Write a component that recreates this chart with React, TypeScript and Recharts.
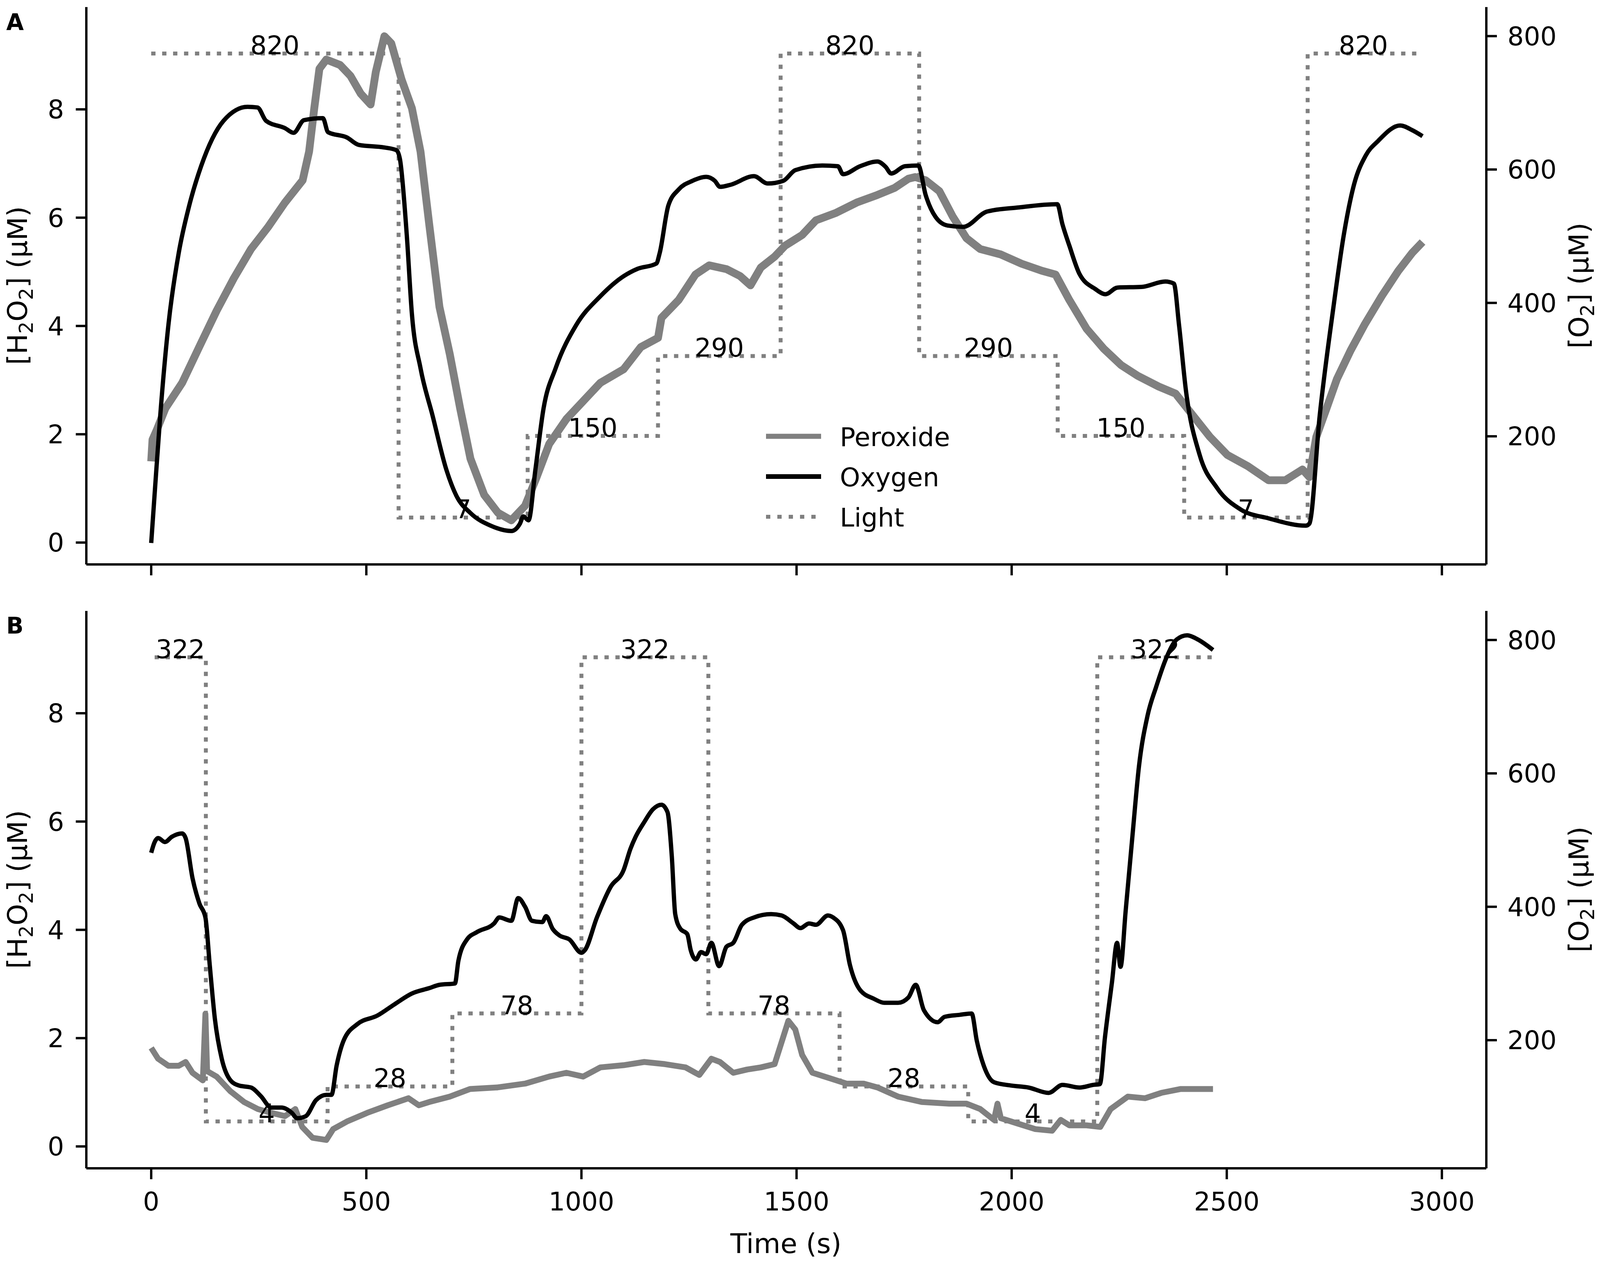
import React from 'react';
import { LineChart, Line, XAxis, YAxis, LabelList } from 'recharts';

// ---------- data ----------
const o2A: [number, number][] = [
  [0, 40], [9, 123], [21, 231], [40, 367], [64, 475], [88, 545], [116, 605], [168, 673], [224, 694], [247, 693],
  [267, 673], [311, 662], [331, 655], [355, 674], [399, 677], [411, 656], [455, 648], [482, 637], [542, 633], [570, 629],
  [578, 616], [594, 502], [606, 383], [626, 302], [654, 231], [686, 150], [710, 110], [742, 85], [789, 66], [837, 58],
  [857, 69], [865, 80], [877, 74], [893, 150], [912, 242], [940, 302], [988, 367], [1044, 410], [1098, 440], [1130, 451],
  [1174, 459], [1182, 475], [1202, 546], [1226, 570], [1258, 583], [1290, 589], [1310, 583], [1322, 574], [1346, 577],
  [1401, 590], [1433, 579], [1469, 583], [1497, 599], [1560, 606], [1596, 605], [1608, 593], [1648, 605], [1688, 612],
  [1707, 604], [1720, 594], [1752, 605], [1783, 606], [1800, 562], [1823, 529], [1851, 516], [1887, 514], [1943, 537],
  [2014, 543], [2106, 548], [2118, 518], [2134, 486], [2158, 443], [2194, 421], [2218, 413], [2246, 423], [2302, 424],
  [2357, 432], [2377, 429], [2389, 367], [2405, 269], [2437, 172], [2477, 123], [2533, 90], [2597, 77], [2684, 66],
  [2692, 69], [2716, 231], [2748, 394], [2772, 502], [2796, 578], [2823, 621], [2852, 643], [2903, 666], [2931, 659],
  [2955, 650],
];

const h2o2A: [number, number][] = [
  [0, 1.5], [3, 1.9], [13, 2.08], [33, 2.48], [72, 2.95], [112, 3.62], [152, 4.28], [192, 4.88], [232, 5.42], [271, 5.82],
  [311, 6.28], [352, 6.69], [367, 7.22], [379, 8.02], [391, 8.75], [407, 8.92], [439, 8.82], [463, 8.62], [487, 8.29],
  [510, 8.09], [522, 8.69], [542, 9.35], [558, 9.22], [582, 8.55], [606, 8.02], [626, 7.22], [646, 5.89], [670, 4.35],
  [694, 3.48], [718, 2.48], [742, 1.55], [774, 0.88], [806, 0.55], [837, 0.41], [869, 0.68], [893, 1.15], [925, 1.82],
  [965, 2.28], [1005, 2.62], [1044, 2.95], [1098, 3.2], [1138, 3.61], [1178, 3.78], [1186, 4.15], [1226, 4.48],
  [1265, 4.95], [1297, 5.12], [1337, 5.05], [1369, 4.92], [1393, 4.75], [1417, 5.08], [1449, 5.28], [1473, 5.48],
  [1513, 5.68], [1545, 5.95], [1592, 6.09], [1640, 6.28], [1688, 6.42], [1728, 6.55], [1760, 6.72], [1776, 6.75],
  [1800, 6.69], [1832, 6.49], [1863, 6.02], [1895, 5.62], [1927, 5.42], [1975, 5.32], [2023, 5.15], [2070, 5.02],
  [2102, 4.95], [2134, 4.48], [2174, 3.95], [2214, 3.58], [2254, 3.28], [2293, 3.08], [2342, 2.88], [2381, 2.75],
  [2421, 2.35], [2461, 1.95], [2501, 1.62], [2549, 1.41], [2597, 1.15], [2636, 1.15], [2676, 1.35], [2692, 1.21],
  [2708, 1.95], [2732, 2.48], [2756, 3.02], [2788, 3.55], [2820, 4.02], [2860, 4.55], [2899, 5.02], [2931, 5.35],
  [2955, 5.55],
];

const lightTimesA = [0, 575, 875, 1178, 1463, 1785, 2107, 2401, 2688, 2947];
const lightLevelsA = [820, 7, 150, 290, 820, 290, 150, 7, 820];

const o2B: [number, number][] = [
  [0, 481], [8, 497], [16, 503], [32, 497], [48, 505], [72, 510], [80, 503], [96, 443], [112, 405], [126, 384],
  [136, 313], [148, 232], [164, 172], [184, 140], [204, 132], [232, 129], [255, 116], [279, 99], [303, 99], [327, 91],
  [339, 83], [359, 86], [383, 110], [407, 118], [419, 118], [431, 162], [447, 199], [479, 224], [526, 237], [566, 254],
  [606, 270], [646, 278], [670, 283], [706, 285], [714, 319], [734, 351], [757, 362], [797, 375], [809, 384], [837, 379],
  [853, 413], [869, 400], [885, 379], [909, 377], [918, 386], [933, 367], [949, 357], [972, 351], [1000, 331],
  [1008, 335], [1036, 384], [1068, 430], [1098, 455], [1114, 487], [1126, 505], [1146, 527], [1166, 546], [1186, 553],
  [1200, 542], [1210, 476], [1218, 389], [1230, 367], [1246, 359], [1254, 335], [1266, 321], [1278, 332], [1290, 329],
  [1302, 346], [1320, 311], [1337, 340], [1353, 346], [1373, 373], [1401, 384], [1441, 389], [1465, 387], [1493, 375],
  [1509, 368], [1529, 375], [1545, 373], [1573, 387], [1585, 384], [1608, 365], [1624, 313], [1648, 275], [1680, 262],
  [1704, 256], [1736, 256], [1760, 264], [1777, 283], [1796, 245], [1828, 227], [1844, 235], [1879, 238], [1907, 240],
  [1919, 199], [1935, 162], [1959, 137], [1999, 132], [2039, 129], [2086, 121], [2118, 133], [2158, 129], [2190, 133],
  [2205, 134], [2217, 205], [2233, 286], [2245, 346], [2253, 310], [2265, 394], [2281, 508], [2296, 611], [2316, 687],
  [2336, 730], [2360, 774], [2384, 801], [2408, 807], [2432, 801], [2468, 785],
];

const h2o2B: [number, number][] = [
  [0, 1.82], [16, 1.62], [40, 1.49], [64, 1.49], [80, 1.56], [96, 1.36], [120, 1.22], [126, 2.45], [130, 1.39],
  [152, 1.29], [184, 1.02], [216, 0.82], [248, 0.69], [279, 0.62], [311, 0.56], [335, 0.69], [351, 0.36], [375, 0.16],
  [407, 0.12], [423, 0.32], [455, 0.46], [502, 0.62], [550, 0.76], [598, 0.89], [622, 0.76], [646, 0.82], [694, 0.92],
  [741, 1.06], [805, 1.09], [869, 1.16], [925, 1.29], [965, 1.36], [1004, 1.29], [1044, 1.46], [1098, 1.5], [1146, 1.56],
  [1194, 1.52], [1242, 1.46], [1274, 1.32], [1302, 1.62], [1322, 1.56], [1353, 1.36], [1385, 1.42], [1417, 1.46],
  [1449, 1.52], [1469, 2.02], [1481, 2.32], [1497, 2.16], [1513, 1.69], [1537, 1.36], [1577, 1.26], [1616, 1.16],
  [1656, 1.16], [1688, 1.09], [1736, 0.92], [1792, 0.82], [1855, 0.79], [1895, 0.79], [1927, 0.69], [1959, 0.49],
  [1967, 0.79], [1975, 0.52], [2015, 0.42], [2055, 0.32], [2094, 0.29], [2114, 0.49], [2134, 0.39], [2174, 0.39],
  [2206, 0.36], [2230, 0.69], [2270, 0.92], [2310, 0.89], [2348, 0.99], [2392, 1.06], [2468, 1.06],
];

const lightTimesB = [8, 127, 410, 700, 1000, 1295, 1600, 1899, 2199, 2468];
const lightLevelsB = [322, 4, 28, 78, 322, 78, 28, 4, 322];

const xTicks = [0, 500, 1000, 1500, 2000, 2500, 3000];
const leftTicks = [0, 2, 4, 6, 8];
const rightTicks = [200, 400, 600, 800];

const legendItems = [
  { name: 'Peroxide', color: '#808080', width: 13, dash: undefined as string | undefined },
  { name: 'Oxygen', color: '#000000', width: 12, dash: undefined as string | undefined },
  { name: 'Light', color: '#808080', width: 10, dash: '11 18' },
];

// ---------- layout / style ----------
// The visible browser area is ~4096 px wide, so horizontal positions are
// scaled from the 4317-px reference by K.
const K = 4096 / 4317;
const sx = (x: number) => Math.round(x * K);
const W = 4096;
const H = 3236;
const FONT = 'DejaVu Sans';
const TICK_FS = 66;
const LABEL_FS = 70;
const PLOT_L = sx(233);
const PLOT_R = sx(4010);
const xDomain: [number, number] = [-150.8, 3103.3];
const leftDomain: [number, number] = [-0.404, 9.89];
const rightDomain: [number, number] = [7.9, 843.6];
const axisStyle = { stroke: '#000', strokeWidth: 6 };
const tickStyle = { fill: '#000', fontSize: TICK_FS, fontFamily: FONT };

const toPts = (arr: [number, number][], key: string) => arr.map(([t, v]) => ({ t, [key]: v }));
const stepData = (times: number[], levels: number[]) =>
  times.map((t, i) => ({ t, L: levels[Math.min(i, levels.length - 1)] }));
const labelData = (times: number[], levels: number[]) =>
  levels.map((L, i) => ({ t: (times[i] + times[i + 1]) / 2, L }));

const NoTick = () => <g />;

const LightLabel = (p: any) => (
  <text x={p.x} y={p.y + 2} textAnchor="middle" fontSize={TICK_FS} fontFamily={FONT} fill="#000">
    {p.value}
  </text>
);

function Panel(props: {
  h2o2: [number, number][];
  o2: [number, number][];
  lightTimes: number[];
  lightLevels: number[];
  lightDomain: [number, number];
  height: number;
  xAxisHeight: number;
  showXLabels: boolean;
  peroxideWidth: number;
}) {
  const { h2o2, o2, lightTimes, lightLevels, lightDomain, height, xAxisHeight, showXLabels, peroxideWidth } = props;
  return (
    <LineChart width={W} height={height} margin={{ top: 18, right: 0, bottom: 0, left: 0 }}>
      <XAxis
        xAxisId="main"
        dataKey="t"
        type="number"
        domain={xDomain}
        allowDataOverflow
        ticks={xTicks}
        interval={0}
        height={xAxisHeight}
        tickSize={28}
        tickMargin={33}
        axisLine={axisStyle}
        tickLine={axisStyle}
        tick={showXLabels ? tickStyle : <NoTick />}
      />
      <XAxis
        xAxisId="top"
        orientation="top"
        dataKey="t"
        type="number"
        domain={xDomain}
        allowDataOverflow
        height={0}
        tick={false}
        tickLine={false}
        axisLine={axisStyle}
      />
      <YAxis
        yAxisId="left"
        type="number"
        domain={leftDomain}
        allowDataOverflow
        ticks={leftTicks}
        interval={0}
        width={PLOT_L}
        tickSize={27}
        tickMargin={30}
        axisLine={axisStyle}
        tickLine={axisStyle}
        tick={tickStyle}
      />
      <YAxis
        yAxisId="right"
        orientation="right"
        type="number"
        domain={rightDomain}
        allowDataOverflow
        ticks={rightTicks}
        interval={0}
        width={W - PLOT_R}
        tickSize={27}
        tickMargin={27}
        axisLine={axisStyle}
        tickLine={axisStyle}
        tick={tickStyle}
      />
      <YAxis yAxisId="light" hide type="number" domain={lightDomain} allowDataOverflow />

      <Line
        xAxisId="main"
        yAxisId="light"
        data={labelData(lightTimes, lightLevels)}
        dataKey="L"
        stroke="none"
        dot={false}
        isAnimationActive={false}
      >
        <LabelList dataKey="L" content={LightLabel} />
      </Line>
      <Line
        xAxisId="main"
        yAxisId="left"
        data={toPts(h2o2, 'H')}
        dataKey="H"
        type="linear"
        stroke="#808080"
        strokeWidth={peroxideWidth}
        strokeLinejoin="round"
        dot={false}
        isAnimationActive={false}
      />
      <Line
        xAxisId="main"
        yAxisId="light"
        data={stepData(lightTimes, lightLevels)}
        dataKey="L"
        type="stepAfter"
        stroke="#808080"
        strokeWidth={10}
        strokeDasharray="11 17"
        strokeLinecap="butt"
        dot={false}
        isAnimationActive={false}
      />
      <Line
        xAxisId="main"
        yAxisId="right"
        data={toPts(o2, 'O')}
        dataKey="O"
        type="monotone"
        stroke="#000"
        strokeWidth={11}
        strokeLinejoin="round"
        dot={false}
        isAnimationActive={false}
      />
    </LineChart>
  );
}

const Sub = ({ children }: { children: React.ReactNode }) => (
  <tspan dy={15} fontSize={49}>
    {children}
  </tspan>
);

function Overlay() {
  const yLabelLeft = (cy: number) => (
    <text transform={`translate(${sx(73)}, ${cy}) rotate(-90)`} textAnchor="middle" fontSize={LABEL_FS} fontFamily={FONT} fill="#000">
      [H<Sub>2</Sub>
      <tspan dy={-15}>O</tspan>
      <Sub>2</Sub>
      <tspan dy={-15}>] (μM)</tspan>
    </text>
  );
  const yLabelRight = (cy: number) => (
    <text transform={`translate(${sx(4285)}, ${cy}) rotate(-90)`} textAnchor="middle" fontSize={LABEL_FS} fontFamily={FONT} fill="#000">
      [O<Sub>2</Sub>
      <tspan dy={-15}>] (μM)</tspan>
    </text>
  );
  return (
    <svg width={W} height={H} style={{ position: 'absolute', left: 0, top: 0, pointerEvents: 'none' }}>
      <text x={sx(17)} y={77} fontSize={58} fontWeight="bold" fontFamily={FONT} fill="#000">A</text>
      <text x={sx(17)} y={1622} fontSize={58} fontWeight="bold" fontFamily={FONT} fill="#000">B</text>
      {yLabelLeft(731)}
      {yLabelRight(731)}
      {yLabelLeft(2277)}
      {yLabelRight(2277)}
      <text x={sx(2121)} y={3208} textAnchor="middle" fontSize={LABEL_FS} fontFamily={FONT} fill="#000">Time (s)</text>
      {legendItems.map((it, i) => {
        const y = 1117 + i * 103;
        return (
          <g key={it.name}>
            <line x1={sx(2067)} x2={sx(2215)} y1={y} y2={y} stroke={it.color} strokeWidth={it.width} strokeDasharray={it.dash} />
            <text x={sx(2266)} y={y + 25} fontSize={TICK_FS} fontFamily={FONT} fill="#000">{it.name}</text>
          </g>
        );
      })}
    </svg>
  );
}

export default function App() {
  return (
    <div style={{ position: 'absolute', left: 0, top: 0, width: W, height: H, background: '#fff', fontFamily: FONT, overflow: 'hidden' }}>
      <div style={{ position: 'absolute', left: 0, top: 0 }}>
        <Panel
          h2o2={h2o2A}
          o2={o2A}
          lightTimes={lightTimesA}
          lightLevels={lightLevelsA}
          lightDomain={[-75.1, 901.4]}
          height={1500}
          xAxisHeight={55}
          showXLabels={false}
          peroxideWidth={20}
        />
      </div>
      <div style={{ position: 'absolute', left: 0, top: 1546 }}>
        <Panel
          h2o2={h2o2B}
          o2={o2B}
          lightTimes={lightTimesB}
          lightLevels={lightLevelsB}
          lightDomain={[-28.1, 353.8]}
          height={1690}
          xAxisHeight={245}
          showXLabels={true}
          peroxideWidth={15}
        />
      </div>
      <Overlay />
    </div>
  );
}
